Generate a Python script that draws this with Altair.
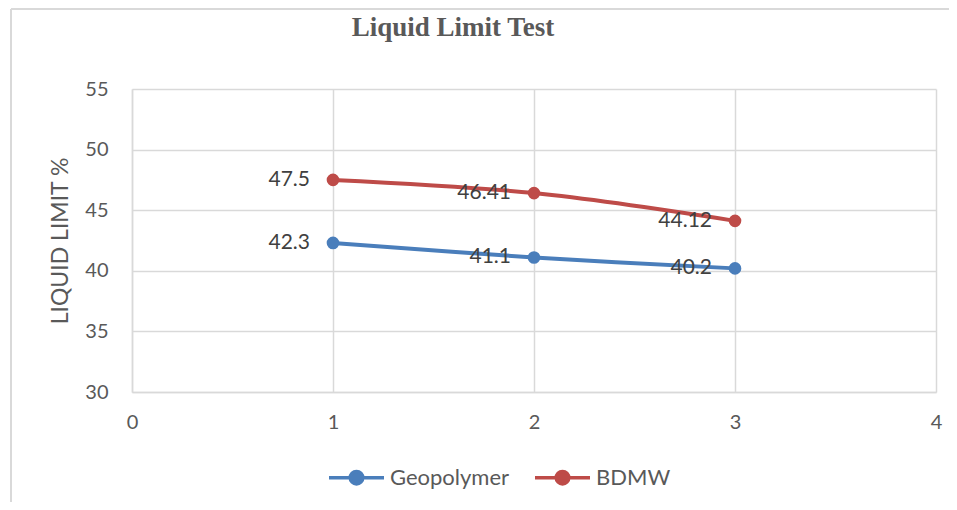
import altair as alt
import pandas as pd

x_vals = [1, 2, 3]
geopolymer = [42.3, 41.1, 40.2]
bdmw = [47.5, 46.41, 44.12]
series_names = ["Geopolymer", "BDMW"]
colors = ["#4A7EBB", "#BE4B48"]

rows = []
for name, vals in zip(series_names, [geopolymer, bdmw]):
    for x, v in zip(x_vals, vals):
        rows.append({"x": x, "value": v, "series": name, "label": f"{v:g}"})
df = pd.DataFrame(rows)

FONT = "Lato"
color = alt.Color(
    "series:N",
    scale=alt.Scale(domain=series_names, range=colors),
    legend=alt.Legend(
        title=None,
        orient="none",
        direction="horizontal",
        legendX=195,
        legendY=359,
        symbolType="M-1,0H1M-0.23,0A0.23,0.23,0,1,1,0.23,0A0.23,0.23,0,1,1,-0.23,0Z",
        symbolSize=3025,
        symbolStrokeWidth=3.4,
        labelFont=FONT,
        labelFontSize=22,
        labelColor="#595959",
        columnPadding=18,
        labelOffset=4,
    ),
)

xenc = alt.X("x:Q", scale=alt.Scale(domain=[0, 4], nice=False),
             axis=alt.Axis(values=[0, 1, 2, 3, 4], title=None, format="d", labelFlush=False))
yenc = alt.Y("value:Q", scale=alt.Scale(domain=[30, 55], nice=False, zero=False),
             axis=alt.Axis(values=[30, 35, 40, 45, 50, 55], title="LIQUID LIMIT %"))

base = alt.Chart(df)
lines = base.mark_line(strokeWidth=4, interpolate="catmull-rom").encode(x=xenc, y=yenc, color=color)
points = base.mark_point(filled=True, size=160, opacity=1, shape="circle").encode(
    x="x:Q", y="value:Q", color=alt.Color("series:N", scale=alt.Scale(domain=series_names, range=colors), legend=None))
labels = base.mark_text(align="right", baseline="middle", dx=-23, font=FONT, fontSize=21, color="#404040").encode(
    x="x:Q", y="value:Q", text="label:N")

border_df = pd.DataFrame({"d": [0]})
left_border = alt.Chart(border_df).mark_rule(color="#D9D9D9", strokeWidth=2).encode(
    x=alt.value(-121), y=alt.value(-80), y2=alt.value(420))
top_border = alt.Chart(border_df).mark_rule(color="#D9D9D9", strokeWidth=2).encode(
    x=alt.value(-121), x2=alt.value(830), y=alt.value(-80))

chart = alt.layer(left_border, top_border, lines, points, labels).properties(
    width=804,
    height=303,
    autosize=alt.AutoSizeParams(type="none"),
    padding={"left": 124, "top": 81, "right": 13, "bottom": 110},
    title=alt.Title("Liquid Limit Test", font="Liberation Serif", fontSize=27, fontWeight="bold",
                    color="#595959", anchor="middle", frame="group", dx=-81, offset=-34),
).configure_view(stroke=None).configure_axis(
    grid=True,
    gridColor="#D9D9D9",
    gridWidth=1.5,
    domainColor="#D9D9D9",
    domainWidth=1.5,
    ticks=False,
    labelFont=FONT,
    labelFontSize=20,
    labelColor="#595959",
    titleFont=FONT,
    titleFontSize=23,
    titleFontWeight="normal",
    titleColor="#595959",
).configure_axisY(labelPadding=24, titlePadding=12).configure_axisX(labelPadding=20)

chart.save("out.html", embed_options={"renderer": "svg", "actions": False})
